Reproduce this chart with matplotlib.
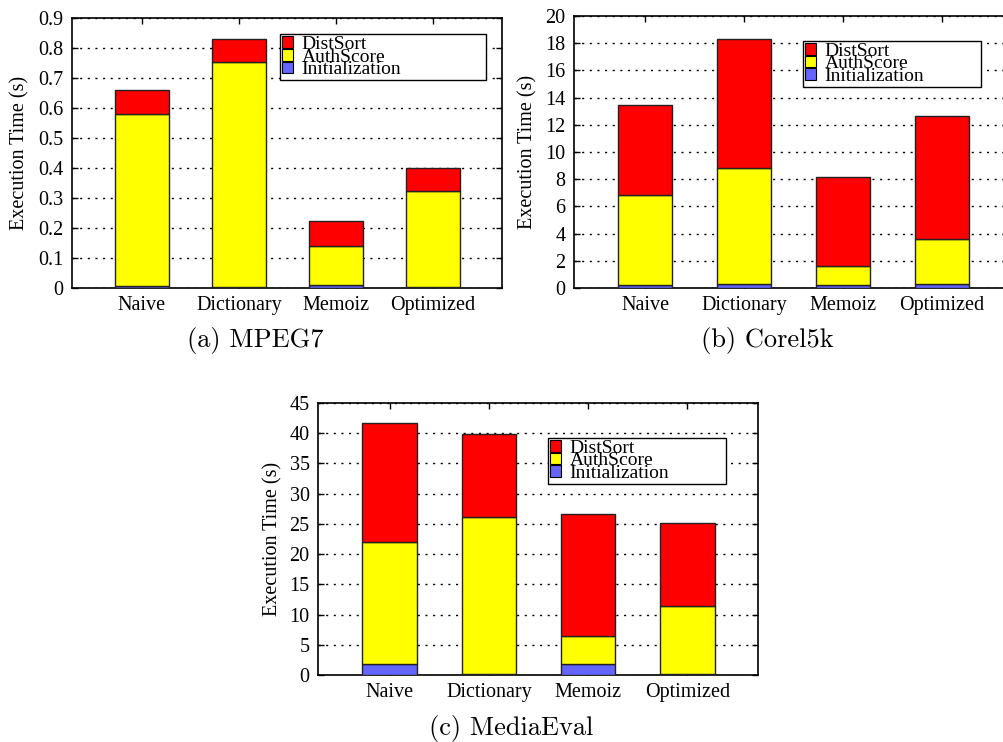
import numpy as np
import matplotlib
matplotlib.use("Agg")
import matplotlib.pyplot as plt
from matplotlib.patches import Patch

plt.rcParams['font.family'] = ['Liberation Serif', 'DejaVu Serif']

methods = ['Naive', 'Dictionary', 'Memoiz', 'Optimized']
series = ['DistSort', 'AuthScore', 'Initialization']
colors = {'DistSort': '#ff0000', 'AuthScore': '#ffff00', 'Initialization': '#6464ff'}

# MPEG7 (s)
mpeg7_init = [0.008, 0.002, 0.009, 0.002]
mpeg7_auth = [0.573, 0.752, 0.130, 0.322]
mpeg7_dist = [0.079, 0.076, 0.085, 0.076]

# Corel5k (s)
corel_init = [0.22, 0.28, 0.24, 0.26]
corel_auth = [6.61, 8.58, 1.38, 3.31]
corel_dist = [6.61, 9.45, 6.51, 9.11]

# MediaEval (s)
media_init = [1.87, 0.17, 1.87, 0.17]
media_auth = [20.10, 25.99, 4.63, 11.28]
media_dist = [19.66, 13.76, 20.20, 13.77]

panels = [
    dict(init=mpeg7_init, auth=mpeg7_auth, dist=mpeg7_dist, ylim=0.9, step=0.1,
         pos=[72, 18, 502, 288], leg=[0.484, 0.774, 0.479, 0.167],
         ylab=-0.099, caption='(a) MPEG7', cap=(255, 340)),
    dict(init=corel_init, auth=corel_auth, dist=corel_dist, ylim=20, step=2,
         pos=[574, 16, 1012, 288], leg=[0.523, 0.746, 0.406, 0.163],
         ylab=-0.083, caption='(b) Corel5k', cap=(767, 340)),
    dict(init=media_init, auth=media_auth, dist=media_dist, ylim=45, step=5,
         pos=[318, 403, 758, 675], leg=[0.523, 0.709, 0.404, 0.163],
         ylab=-0.081, caption='(c) MediaEval', cap=(511, 728)),
]

W, H = 1004, 742
fig = plt.figure(figsize=(W / 100, H / 100), dpi=100)

x = np.arange(len(methods))
width = 0.55

for p in panels:
    l, t, r, b = p['pos']
    ax = fig.add_axes([l / W, 1 - b / H, (r - l) / W, (b - t) / H])
    init = np.array(p['init'])
    auth = np.array(p['auth'])
    dist = np.array(p['dist'])
    kw = dict(width=width, edgecolor='#222222', linewidth=1.0, zorder=3)
    ax.bar(x, init, color=colors['Initialization'], **kw)
    ax.bar(x, auth, bottom=init, color=colors['AuthScore'], **kw)
    ax.bar(x, dist, bottom=init + auth, color=colors['DistSort'], **kw)

    ax.set_xlim(-0.72, 3.71)
    ax.set_ylim(0, p['ylim'])
    yt = np.arange(0, p['ylim'] + p['step'] / 2, p['step'])
    ax.set_yticks(yt)
    ax.set_yticklabels(['{:g}'.format(round(v, 2)) for v in yt])
    ax.set_xticks(x)
    ax.set_xticklabels(methods)
    ax.tick_params(direction='in', length=4, width=1, labelsize=14.5,
                   top=True, right=True, pad=6)
    ax.yaxis.grid(True, linestyle=(0, (1.5, 4)), color='black', linewidth=1.0, zorder=0)
    ax.set_axisbelow(True)
    for s in ax.spines.values():
        s.set_linewidth(1.2)

    ax.set_ylabel('Execution Time (s)', fontsize=14.5)
    ax.yaxis.set_label_coords(p['ylab'], 0.5)

    handles = [Patch(facecolor=colors[s], edgecolor='black', linewidth=0.8) for s in series]
    leg = ax.legend(handles, series, loc='upper left', bbox_to_anchor=p['leg'],
                    mode='expand', fontsize=14, labelspacing=-0.22,
                    handlelength=0.55, handleheight=0.55, handletextpad=0.45,
                    borderpad=0.1, borderaxespad=0, fancybox=False,
                    framealpha=1, edgecolor='black')
    leg.get_frame().set_linewidth(1.0)
    leg.set_zorder(5)

    cx, cy = p['cap']
    fig.text(cx / W, 1 - cy / H, p['caption'], fontsize=19, family='cmr10',
             ha='center', va='center')

fig.savefig('out.png', dpi=100)
